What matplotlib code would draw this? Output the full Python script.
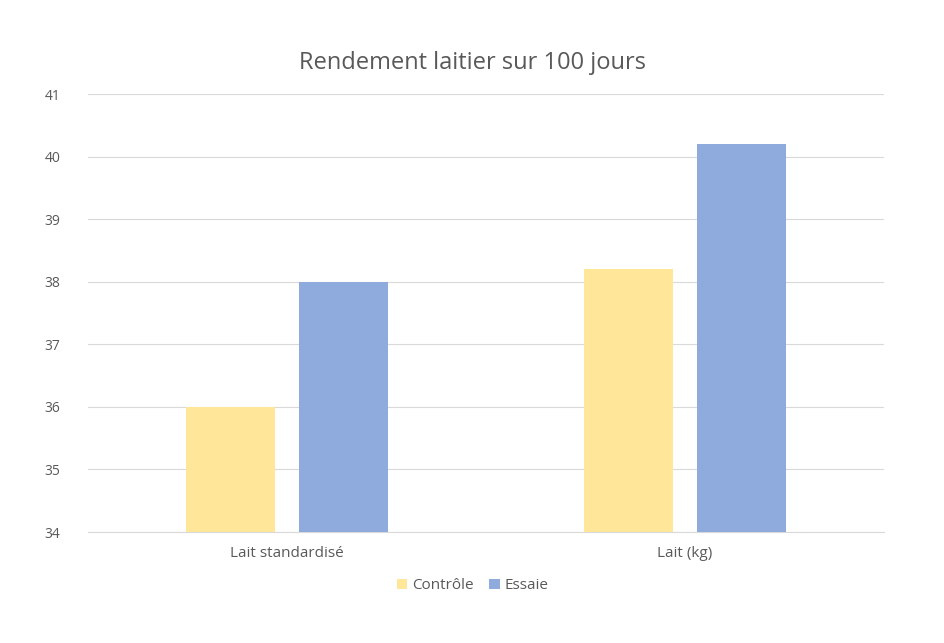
import numpy as np
import matplotlib.pyplot as plt

plt.rcParams['font.family'] = ['Open Sans', 'DejaVu Sans']

# Donnees
categories = ['Lait standardisé', 'Lait (kg)']
controle = [36.0, 38.2]
essaie = [38.0, 40.2]
yticks = [34, 35, 36, 37, 38, 39, 40, 41]

fig = plt.figure(figsize=(9.45, 6.43), dpi=100)
ax = fig.add_axes([0.0931, 0.1726, 0.8423, 0.6812])

x = np.arange(len(categories))
w = 0.224
ax.bar(x - 0.142, np.array(controle) - 34, w, bottom=34, color='#FFE699', label='Contrôle', zorder=3)
ax.bar(x + 0.142, np.array(essaie) - 34, w, bottom=34, color='#8FAADC', label='Essaie', zorder=3)

ax.set_xlim(-0.5, 1.5)
ax.set_ylim(34, 41)
ax.set_yticks(yticks)
ax.set_xticks(x)
ax.set_xticklabels(categories, fontsize=11)
ax.grid(axis='y', color='#D9D9D9', linewidth=0.8, zorder=0)
for s in ['top', 'right', 'left']:
    ax.spines[s].set_visible(False)
ax.spines['bottom'].set_color('#D9D9D9')
ax.tick_params(axis='both', length=0, colors='#595959')
ax.tick_params(axis='y', labelsize=10, pad=20)
ax.tick_params(axis='x', pad=10)

fig.text(0.5, 0.902, 'Rendement laitier sur 100 jours', ha='center', va='center',
         fontsize=17, color='#595959')

fig.legend(loc='center', bbox_to_anchor=(0.5, 0.089), ncol=2, frameon=False,
           fontsize=11, labelcolor='#595959', handlelength=0.7, handleheight=0.7,
           handletextpad=0.3, columnspacing=1.0)

fig.savefig('out.png', dpi=100)
